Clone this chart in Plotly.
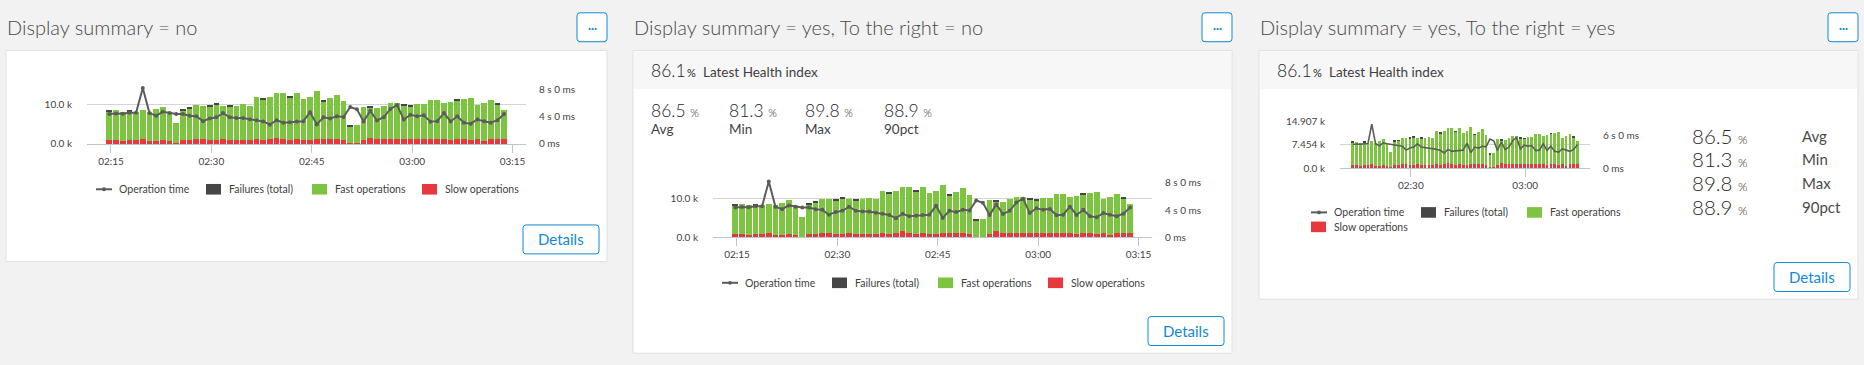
import plotly.graph_objects as go
import pandas as pd

W, H = 1864, 365

# ---------------- data ----------------
times = pd.date_range("2020-01-01 02:14:45", periods=60, freq="min")

slow_k = [1.0, 1.0, 0.75, 1.0, 1.0, 1.25, 0.75, 0.75, 1.0, 0.75,
          0.25, 1.0, 1.0, 1.25, 1.25, 1.0, 1.0, 1.25, 1.0, 1.0,
          1.0, 1.0, 1.25, 1.0, 1.25, 1.55, 1.25, 1.0, 1.25, 1.0,
          1.0, 1.25, 1.25, 1.25, 1.25, 1.0, 0.2, 0.2, 1.0, 1.55,
          1.25, 1.25, 1.25, 1.25, 1.25, 1.25, 1.25, 1.25, 1.25, 1.25,
          1.25, 1.0, 1.25, 1.25, 1.0, 1.25, 0.75, 1.25, 1.25, 1.25]

fast_k = [7.3, 7.5, 7.45, 7.25, 7.2, 7.35, 7.45, 8.1, 8.4, 7.25,
          4.95, 7.55, 7.85, 8.55, 8.45, 8.55, 8.85, 8.45, 8.55, 8.7,
          9.1, 8.7, 10.55, 10.35, 10.65, 11.25, 11.55, 10.75, 11.55, 10.4,
          10.9, 12.05, 9.5, 10.35, 11.25, 9.8, 4.3, 4.55, 8.4, 7.55,
          7.85, 8.45, 9.05, 9.05, 8.5, 8.25, 8.85, 8.85, 9.85, 9.85,
          9.05, 9.6, 9.8, 10.05, 10.55, 8.55, 9.55, 9.85, 8.75, 7.35]

fail_k = [0.25, 0, 0, 0.25, 0, 0, 0, 0, 0, 0,
          0, 0.25, 0.25, 0, 0, 0.25, 0.25, 0, 0.25, 0,
          0, 0, 0, 0.25, 0, 0, 0, 0.25, 0, 0,
          0, 0, 0.25, 0, 0, 0, 0.25, 0, 0, 0.25,
          0, 0, 0, 0, 0.25, 0.25, 0, 0, 0, 0,
          0, 0, 0.25, 0, 0, 0, 0, 0, 0.25, 0]

op_time_ms = [4370, 4460, 4410, 4550, 4550, 8170, 4510, 4130, 4690, 4510,
              4370, 4370, 4130, 4040, 3330, 3710, 3900, 4510, 3900, 3800,
              3800, 3620, 3470, 3290, 2820, 3470, 3100, 3190, 3290, 3330,
              4650, 2860, 3900, 3710, 4040, 3940, 5400, 5070, 3290, 4840,
              3430, 3900, 5120, 5680, 3570, 4270, 4040, 4180, 3240, 3330,
              4510, 3290, 4040, 3100, 2960, 3570, 3330, 3100, 3470, 4370]

x_ticks_15 = ["2020-01-01 02:15", "2020-01-01 02:30", "2020-01-01 02:45",
              "2020-01-01 03:00", "2020-01-01 03:15"]
x_labels_15 = ["02:15", "02:30", "02:45", "03:00", "03:15"]
x_ticks_30 = ["2020-01-01 02:30", "2020-01-01 03:00"]
x_labels_30 = ["02:30", "03:00"]

ops_ticks = [0, 10]
ops_labels = ["0.0 k", "10.0 k"]
ops_ticks_p3 = [0, 7.454, 14.907]
ops_labels_p3 = ["0.0 k", "7.454 k", "14.907 k"]
time_ticks = [0, 4000, 8000]
time_labels = ["0 ms", "4 s 0 ms", "8 s 0 ms"]
time_ticks_p3 = [0, 6000]
time_labels_p3 = ["0 ms", "6 s 0 ms"]

titles = ["Display summary = no",
          "Display summary = yes, To the right = no",
          "Display summary = yes, To the right = yes"]
latest_value = "86.1"
latest_label = "Latest Health index"
stat_values = ["86.5", "81.3", "89.8", "88.9"]
stat_names = ["Avg", "Min", "Max", "90pct"]
legend_names = ["Operation time", "Failures (total)", "Fast operations", "Slow operations"]

# ---------------- style ----------------
GREEN = "#7dc540"
RED = "#e8383d"
FAIL = "#454646"
LINE = "#5c5c5c"
BLUE = "#0f8ad6"
TXT = "#3f3f3f"
NUM = "#262626"
GRID = "#d4d4d4"
AXIS = "#b9c6d3"
FONT = "Lato"

def X(px):
    return px / W

def Y(py):
    return 1 - py / H

panels = [
    dict(x0=6, y0=45, x1=607, y1=264, plot=(87, 526, 81, 142), header=False,
         xt=x_ticks_15, xl=x_labels_15, yt=ops_ticks, yl=ops_labels,
         rt=time_ticks, rl=time_labels, bw=0.85, markers=True),
    dict(x0=633, y0=45, x1=1232, y1=359, plot=(713, 1152, 178, 239), header=True,
         xt=x_ticks_15, xl=x_labels_15, yt=ops_ticks, yl=ops_labels,
         rt=time_ticks, rl=time_labels, bw=0.85, markers=True),
    dict(x0=1259, y0=45, x1=1858, y1=303, plot=(1340, 1590, 119, 167), header=True,
         xt=x_ticks_30, xl=x_labels_30, yt=ops_ticks_p3, yl=ops_labels_p3,
         rt=time_ticks_p3, rl=time_labels_p3, bw=0.72, markers=False),
]

fig = go.Figure()
shapes = []
annotations = []
layout_axes = {}

def rrect(x0, y0, x1, y1, r, line_color, fill, width=1):
    pts = (f"M {X(x0 + r)},{Y(y0)} L {X(x1 - r)},{Y(y0)} Q {X(x1)},{Y(y0)} {X(x1)},{Y(y0 + r)} "
           f"L {X(x1)},{Y(y1 - r)} Q {X(x1)},{Y(y1)} {X(x1 - r)},{Y(y1)} "
           f"L {X(x0 + r)},{Y(y1)} Q {X(x0)},{Y(y1)} {X(x0)},{Y(y1 - r)} "
           f"L {X(x0)},{Y(y0 + r)} Q {X(x0)},{Y(y0)} {X(x0 + r)},{Y(y0)} Z")
    return dict(type="path", path=pts, xref="paper", yref="paper",
                line=dict(color=line_color, width=width), fillcolor=fill, layer="below")

def ann(x, y, text, size, color=TXT, xanchor="left", weight=None, yanchor="middle"):
    f = dict(family=FONT, size=size, color=color)
    if weight:
        f["weight"] = weight
    annotations.append(dict(x=X(x), y=Y(y), xref="paper", yref="paper", text=text,
                            showarrow=False, xanchor=xanchor, yanchor=yanchor,
                            font=f, align="left"))

for k, p in enumerate(panels):
    xs = "x" if k == 0 else f"x{k + 1}"
    yl_ref = "y" if k == 0 else f"y{2 * k + 1}"
    yr_ref = f"y{2 * k + 2}"
    xname = "xaxis" if k == 0 else f"xaxis{k + 1}"
    ylname = "yaxis" if k == 0 else f"yaxis{2 * k + 1}"
    yrname = f"yaxis{2 * k + 2}"
    px0, px1, py0, py1 = p["plot"]

    # widget frame
    shapes.append(dict(type="rect", xref="paper", yref="paper", x0=X(p["x0"]), x1=X(p["x1"]),
                       y0=Y(p["y1"]), y1=Y(p["y0"]), fillcolor="white",
                       line=dict(color="#e0e0e0", width=1), layer="below"))
    if p["header"]:
        shapes.append(dict(type="rect", xref="paper", yref="paper", x0=X(p["x0"] + 1),
                           x1=X(p["x1"] - 1), y0=Y(85), y1=Y(p["y0"] + 1),
                           fillcolor="#f7f7f7", line=dict(width=0), layer="below"))
    # title + menu button
    ann(p["x0"] - 1, 21, titles[k], 20, color="#4a4a4a", weight=300)
    shapes.append(rrect(p["x1"] - 30, 6, p["x1"], 36, 3, BLUE, "white"))
    ann(p["x1"] - 15, 21, "<b>···</b>", 11, color=BLUE, xanchor="center")
    # details button
    shapes.append(rrect(p["x1"] - 84, p["y1"] - 38, p["x1"] - 8, p["y1"] - 8, 3, BLUE, "white"))
    ann(p["x1"] - 46, p["y1"] - 23, "Details", 15, color=BLUE, xanchor="center")

    # header + stats
    if p["header"]:
        hx = p["x0"] + 16
        ann(hx, 66, latest_value, 17.5, color=NUM, weight=300)
        ann(hx + 36, 68, "%", 11, color=NUM)
        ann(hx + 52, 67, latest_label, 13.5)
    if k == 1:
        for j, (v, n) in enumerate(zip(stat_values, stat_names)):
            cx = p["x0"] + [16, 94, 170, 249][j]
            ann(cx, 107, f"{v} <span style='font-size:11px'>%</span>", 17.5, color=NUM, weight=300)
            ann(cx, 127, n, 13.5)
    if k == 2:
        for j, (v, n) in enumerate(zip(stat_values, stat_names)):
            cy = [134, 158, 182, 207][j]
            ann(p["x0"] + 431, cy, f"{v} <span style='font-size:12px'>%</span>", 20.5, color=NUM, weight=300)
            ann(p["x0"] + 541, cy, n, 15, color="#4a4a4a")

    # traces
    bw = p["bw"] * 60000
    fig.add_trace(go.Bar(x=times, y=slow_k, xaxis=xs, yaxis=yl_ref, marker=dict(color=RED, line=dict(width=0)),
                         width=bw, name=legend_names[3], showlegend=False))
    fig.add_trace(go.Bar(x=times, y=fast_k, xaxis=xs, yaxis=yl_ref, marker=dict(color=GREEN, line=dict(width=0)),
                         width=bw, name=legend_names[2], showlegend=False))
    fig.add_trace(go.Bar(x=times, y=fail_k, xaxis=xs, yaxis=yl_ref, marker=dict(color=FAIL, line=dict(width=0)),
                         width=bw, name=legend_names[1], showlegend=False))
    fig.add_trace(go.Scatter(x=times, y=op_time_ms, xaxis=xs, yaxis=yr_ref,
                             mode="lines+markers" if p["markers"] else "lines",
                             line=dict(color=LINE, width=2 if p["markers"] else 1.6),
                             marker=dict(size=4, color=LINE),
                             name=legend_names[0], showlegend=False))

    tf = dict(family=FONT, size=10, color=TXT)
    layout_axes[xname] = dict(type="date", domain=[X(px0), X(px1)], anchor=yl_ref,
                              range=["2020-01-01 02:11:25", "2020-01-01 03:17:01"],
                              tickvals=p["xt"], ticktext=p["xl"], ticks="outside", ticklen=8,
                              tickcolor=AXIS, showline=True, linecolor=AXIS, linewidth=1,
                              showgrid=False, zeroline=False, tickfont=tf, fixedrange=True)
    layout_axes[ylname] = dict(domain=[Y(py1), Y(py0)], anchor=xs, range=[0, 14.907],
                               tickvals=p["yt"], ticktext=p["yl"], showgrid=True, gridcolor=GRID,
                               zeroline=False, ticks="", showline=False, tickfont=tf,
                               ticklabelstandoff=14, fixedrange=True)
    layout_axes[yrname] = dict(overlaying=yl_ref, side="right", anchor=xs, range=[0, 8600],
                               tickvals=p["rt"], ticktext=p["rl"], showgrid=False, zeroline=False,
                               ticks="", showline=False, tickfont=tf, ticklabelstandoff=12,
                               fixedrange=True)

    # manual legend
    if k < 2:
        ly = py1 + 47
        items = [(px0 + 9, ly), (px0 + 119, ly), (px0 + 225, ly), (px0 + 335, ly)]
    else:
        ly = py1 + 46
        items = [(px0 - 29, ly), (px0 + 81, ly), (px0 + 187, ly), (px0 - 29, ly + 15)]
    colors = [LINE, FAIL, GREEN, RED]
    for j, (ix, iy) in enumerate(items):
        if j == 0:
            shapes.append(dict(type="line", xref="paper", yref="paper", x0=X(ix), x1=X(ix + 16),
                               y0=Y(iy), y1=Y(iy), line=dict(color=LINE, width=2)))
            shapes.append(dict(type="circle", xref="paper", yref="paper", x0=X(ix + 6), x1=X(ix + 10),
                               y0=Y(iy + 2), y1=Y(iy - 2), fillcolor=LINE, line=dict(width=0)))
        else:
            shapes.append(dict(type="rect", xref="paper", yref="paper", x0=X(ix), x1=X(ix + 15),
                               y0=Y(iy + 5.5), y1=Y(iy - 5.5), fillcolor=colors[j], line=dict(width=0)))
        ann(ix + 21, iy, legend_names[j], 10.5)

fig.update_layout(
    width=W, height=H, margin=dict(l=0, r=0, t=0, b=0),
    paper_bgcolor="#f2f2f2", plot_bgcolor="rgba(0,0,0,0)",
    barmode="stack", showlegend=False, font=dict(family=FONT, color=TXT),
    shapes=shapes, annotations=annotations, hovermode=False,
    **layout_axes,
)

fig.write_html("out.html", config={"displayModeBar": False},
               post_script="document.body.style.margin='0px';document.body.style.background='#f2f2f2';document.body.style.overflow='hidden';")
